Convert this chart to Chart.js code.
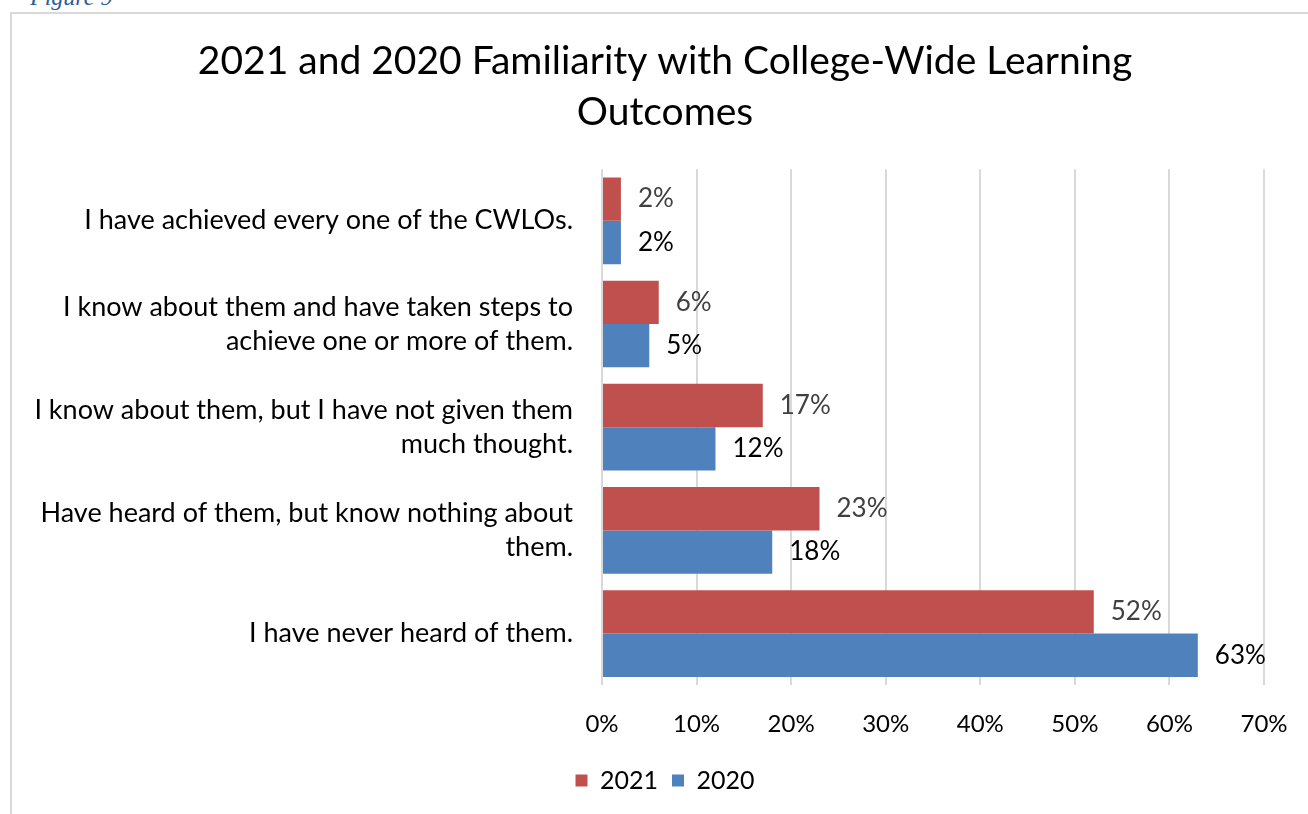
<!DOCTYPE html>
<html>
<head>
<meta charset="utf-8">
<script src="https://cdn.jsdelivr.net/npm/chart.js@4"></script>
<style>
  body { margin: 0; background: #fff; overflow: hidden; }
  #wrap { position: relative; width: 1308px; height: 814px; }
  #fig { position: absolute; left: 30px; top: -16px; font: italic 24px "Liberation Serif", serif; color: #2e5c9a; }
  #frame { position: absolute; left: 10px; top: 12px; width: 1320px; height: 820px; border: 2px solid #d9d9d9; box-sizing: border-box; pointer-events: none; }
  canvas { position: absolute; left: 0; top: 0; }
</style>
</head>
<body>
<div id="wrap">
  <div id="fig">Figure 9</div>
  <div id="frame"></div>
  <canvas id="chart" width="1308" height="814"></canvas>
</div>
<script>
// categories, top to bottom
const categories = [
  ['I have achieved every one of the CWLOs.'],
  ['I know about them and have taken steps to', 'achieve one or more of them.'],
  ['I know about them, but I have not given them', 'much thought.'],
  ['Have heard of them, but know nothing about', 'them.'],
  ['I have never heard of them.']
];
const values2021 = [2, 6, 17, 23, 52];
const values2020 = [2, 5, 12, 18, 63];
const xTicks = [0, 10, 20, 30, 40, 50, 60, 70];

const FONT = 'Lato, "Noto Sans", sans-serif';

// draw the value labels next to each bar
const barLabels = {
  id: 'barLabels',
  afterDatasetsDraw(chart) {
    const ctx = chart.ctx;
    ctx.save();
    ctx.font = '26px ' + FONT;
    ctx.textBaseline = 'middle';
    ctx.textAlign = 'left';
    chart.data.datasets.forEach((ds, i) => {
      ctx.fillStyle = ds.labelColor;
      chart.getDatasetMeta(i).data.forEach((bar, j) => {
        ctx.fillText(ds.data[j] + '%', bar.x + 17, bar.y);
      });
    });
    ctx.restore();
  }
};

new Chart(document.getElementById('chart'), {
  type: 'bar',
  data: {
    labels: categories,
    datasets: [
      { label: '2021', data: values2021, backgroundColor: '#c0504d', labelColor: '#404040' },
      { label: '2020', data: values2020, backgroundColor: '#4f81bd', labelColor: '#000000' }
    ]
  },
  options: {
    indexAxis: 'y',
    responsive: false,
    animation: false,
    categoryPercentage: 0.84,
    barPercentage: 1.0,
    layout: { padding: { left: 22, right: 0, top: 14, bottom: 11 } },
    scales: {
      x: {
        min: 0,
        max: 70,
        afterBuildTicks(scale) { scale.ticks = xTicks.map(v => ({ value: v })); },
        afterFit(scale) { scale.paddingRight = 44; scale.height -= 10; },
        ticks: {
          callback: v => v + '%',
          color: '#000',
          font: { family: FONT, size: 24 },
          padding: 25
        },
        grid: { color: '#d9d9d9', lineWidth: 2, drawTicks: false },
        border: { display: false }
      },
      y: {
        afterFit(scale) { scale.width = 602 - 22; },
        ticks: {
          color: '#000',
          font: { family: FONT, size: 27, lineHeight: 1.25 },
          padding: 21
        },
        grid: { display: false },
        border: { display: false }
      }
    },
    plugins: {
      title: {
        display: true,
        text: ['2021 and 2020 Familiarity with College-Wide Learning', 'Outcomes'],
        color: '#000',
        font: { family: FONT, size: 39, weight: 'normal', lineHeight: 1.31 },
        padding: { top: 22, bottom: 31 }
      },
      legend: {
        position: 'bottom',
        labels: {
          color: '#000',
          font: { family: FONT, size: 25 },
          boxWidth: 12,
          boxHeight: 12,
          padding: 14
        }
      },
      tooltip: { enabled: false }
    }
  },
  plugins: [barLabels]
});
</script>
</body>
</html>
